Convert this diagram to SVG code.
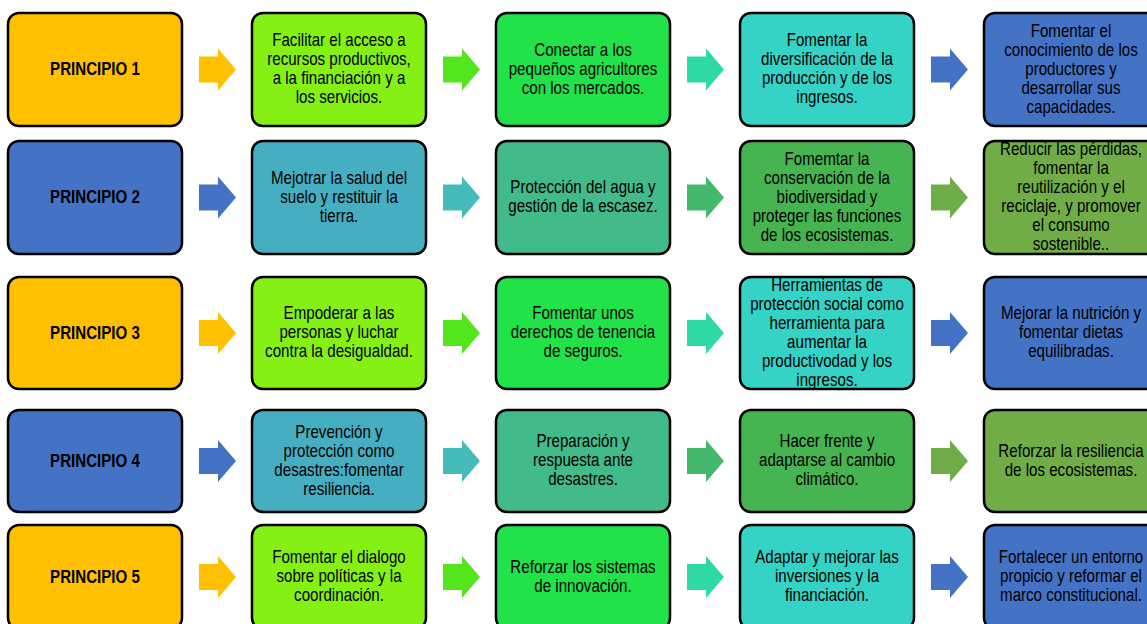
<svg xmlns="http://www.w3.org/2000/svg" xmlns:xlink="http://www.w3.org/1999/xlink" width="1147" height="624" viewBox="0 0 1147 624">
<style>
.box{stroke:#000;stroke-width:2.5}
.t{font-family:"Liberation Sans",Arial,sans-serif;font-size:18px;fill:#000;text-anchor:middle}
.b{font-weight:bold}
.orange{fill:#FFC000}.lime{fill:#85F013}.green{fill:#22E24A}.turq{fill:#34D3C5}.blue{fill:#4472C4}
.teal{fill:#46AEC1}.sea{fill:#43BA8A}.green2{fill:#46B450}.olive{fill:#70AD47}
.a-green{fill:#53E61C}.a-turq{fill:#2FD9A3}.a-teal{fill:#45BCB9}.a-sea{fill:#44B86B}.a-olive{fill:#6EAD48}
</style>
<defs>
<polygon id="arr" points="0,-13 19,-13 19,-21 37,0 19,21 19,13 0,13"/>
</defs>
<rect width="1147" height="624" fill="#fff"/>
<g id="connectors">
<use xlink:href="#arr" x="199" y="69.5" class="orange"/>
<use xlink:href="#arr" x="443" y="69.5" class="a-green"/>
<use xlink:href="#arr" x="687" y="69.5" class="a-turq"/>
<use xlink:href="#arr" x="931" y="69.5" class="blue"/>
<use xlink:href="#arr" x="199" y="197.5" class="blue"/>
<use xlink:href="#arr" x="443" y="197.5" class="a-teal"/>
<use xlink:href="#arr" x="687" y="197.5" class="a-sea"/>
<use xlink:href="#arr" x="931" y="197.5" class="a-olive"/>
<use xlink:href="#arr" x="199" y="333" class="orange"/>
<use xlink:href="#arr" x="443" y="333" class="a-green"/>
<use xlink:href="#arr" x="687" y="333" class="a-turq"/>
<use xlink:href="#arr" x="931" y="333" class="blue"/>
<use xlink:href="#arr" x="199" y="461" class="blue"/>
<use xlink:href="#arr" x="443" y="461" class="a-teal"/>
<use xlink:href="#arr" x="687" y="461" class="a-sea"/>
<use xlink:href="#arr" x="931" y="461" class="a-olive"/>
<use xlink:href="#arr" x="199" y="577" class="orange"/>
<use xlink:href="#arr" x="443" y="577" class="a-green"/>
<use xlink:href="#arr" x="687" y="577" class="a-turq"/>
<use xlink:href="#arr" x="931" y="577" class="blue"/>
</g>

<!-- Row 1 -->
<g id="p1">
<rect class="box orange" x="8" y="13" width="174" height="113" rx="11"/>
<text class="t b" transform="translate(95 0) scale(0.84 1)"><tspan x="0" y="75.5">PRINCIPIO 1</tspan></text>
</g>
<g id="r1c2">
<rect class="box lime" x="252" y="13" width="174" height="113" rx="11"/>
<text class="t" transform="translate(339 0) scale(0.84 1)"><tspan x="0" y="46.5">Facilitar el acceso a</tspan><tspan x="0" y="65.5">recursos productivos,</tspan><tspan x="0" y="84.5">a la financiación y a</tspan><tspan x="0" y="103.5">los servicios.</tspan></text>
</g>
<g id="r1c3">
<rect class="box green" x="496" y="13" width="174" height="113" rx="11"/>
<text class="t" transform="translate(583 0) scale(0.84 1)"><tspan x="0" y="56">Conectar a los</tspan><tspan x="0" y="75">pequeños agricultores</tspan><tspan x="0" y="94">con los mercados.</tspan></text>
</g>
<g id="r1c4">
<rect class="box turq" x="740" y="13" width="174" height="113" rx="11"/>
<text class="t" transform="translate(827 0) scale(0.84 1)"><tspan x="0" y="46.5">Fomentar la</tspan><tspan x="0" y="65.5">diversificación de la</tspan><tspan x="0" y="84.5">producción y de los</tspan><tspan x="0" y="103.5">ingresos.</tspan></text>
</g>
<g id="r1c5">
<rect class="box blue" x="984" y="13" width="174" height="113" rx="11"/>
<text class="t" transform="translate(1071 0) scale(0.84 1)"><tspan x="0" y="37">Fomentar el</tspan><tspan x="0" y="56">conocimiento de los</tspan><tspan x="0" y="75">productores y</tspan><tspan x="0" y="94">desarrollar sus</tspan><tspan x="0" y="113">capacidades.</tspan></text>
</g>

<!-- Row 2 -->
<g id="p2">
<rect class="box blue" x="8" y="141" width="174" height="113" rx="11"/>
<text class="t b" transform="translate(95 0) scale(0.84 1)"><tspan x="0" y="203.5">PRINCIPIO 2</tspan></text>
</g>
<g id="r2c2">
<rect class="box teal" x="252" y="141" width="174" height="113" rx="11"/>
<text class="t" transform="translate(339 0) scale(0.84 1)"><tspan x="0" y="184">Mejotrar la salud del</tspan><tspan x="0" y="203">suelo y restituir la</tspan><tspan x="0" y="222">tierra.</tspan></text>
</g>
<g id="r2c3">
<rect class="box sea" x="496" y="141" width="174" height="113" rx="11"/>
<text class="t" transform="translate(583 0) scale(0.84 1)"><tspan x="0" y="193.5">Protección del agua y</tspan><tspan x="0" y="212.5">gestión de la escasez.</tspan></text>
</g>
<g id="r2c4">
<rect class="box green2" x="740" y="141" width="174" height="113" rx="11"/>
<text class="t" transform="translate(827 0) scale(0.84 1)"><tspan x="0" y="165">Fomemtar la</tspan><tspan x="0" y="184">conservación de la</tspan><tspan x="0" y="203">biodiversidad y</tspan><tspan x="0" y="222">proteger las funciones</tspan><tspan x="0" y="241">de los ecosistemas.</tspan></text>
</g>
<g id="r2c5">
<rect class="box olive" x="984" y="141" width="174" height="113" rx="11"/>
<text class="t" transform="translate(1071 0) scale(0.84 1)"><tspan x="0" y="155.5">Reducir las pérdidas,</tspan><tspan x="0" y="174.5">fomentar la</tspan><tspan x="0" y="193.5">reutilización y el</tspan><tspan x="0" y="212.5">reciclaje, y promover</tspan><tspan x="0" y="231.5">el consumo</tspan><tspan x="0" y="250.5">sostenible..</tspan></text>
</g>

<!-- Row 3 -->
<g id="p3">
<rect class="box orange" x="8" y="277" width="174" height="112" rx="11"/>
<text class="t b" transform="translate(95 0) scale(0.84 1)"><tspan x="0" y="339">PRINCIPIO 3</tspan></text>
</g>
<g id="r3c2">
<rect class="box lime" x="252" y="277" width="174" height="112" rx="11"/>
<text class="t" transform="translate(339 0) scale(0.84 1)"><tspan x="0" y="319.5">Empoderar a las</tspan><tspan x="0" y="338.5">personas y luchar</tspan><tspan x="0" y="357.5">contra la desigualdad.</tspan></text>
</g>
<g id="r3c3">
<rect class="box green" x="496" y="277" width="174" height="112" rx="11"/>
<text class="t" transform="translate(583 0) scale(0.84 1)"><tspan x="0" y="319.5">Fomentar unos</tspan><tspan x="0" y="338.5">derechos de tenencia</tspan><tspan x="0" y="357.5">de seguros.</tspan></text>
</g>
<g id="r3c4">
<rect class="box turq" x="740" y="277" width="174" height="112" rx="11"/>
<text class="t" transform="translate(827 0) scale(0.84 1)"><tspan x="0" y="291">Herramientas de</tspan><tspan x="0" y="310">protección social como</tspan><tspan x="0" y="329">herramienta para</tspan><tspan x="0" y="348">aumentar la</tspan><tspan x="0" y="367">productivodad y los</tspan><tspan x="0" y="386">ingresos.</tspan></text>
</g>
<g id="r3c5">
<rect class="box blue" x="984" y="277" width="174" height="112" rx="11"/>
<text class="t" transform="translate(1071 0) scale(0.84 1)"><tspan x="0" y="319.5">Mejorar la nutrición y</tspan><tspan x="0" y="338.5">fomentar dietas</tspan><tspan x="0" y="357.5">equilibradas.</tspan></text>
</g>

<!-- Row 4 -->
<g id="p4">
<rect class="box blue" x="8" y="410" width="174" height="102" rx="11"/>
<text class="t b" transform="translate(95 0) scale(0.84 1)"><tspan x="0" y="467">PRINCIPIO 4</tspan></text>
</g>
<g id="r4c2">
<rect class="box teal" x="252" y="410" width="174" height="102" rx="11"/>
<text class="t" transform="translate(339 0) scale(0.84 1)"><tspan x="0" y="438">Prevención y</tspan><tspan x="0" y="457">protección como</tspan><tspan x="0" y="476">desastres:fomentar</tspan><tspan x="0" y="495">resiliencia.</tspan></text>
</g>
<g id="r4c3">
<rect class="box sea" x="496" y="410" width="174" height="102" rx="11"/>
<text class="t" transform="translate(583 0) scale(0.84 1)"><tspan x="0" y="447.5">Preparación y</tspan><tspan x="0" y="466.5">respuesta ante</tspan><tspan x="0" y="485.5">desastres.</tspan></text>
</g>
<g id="r4c4">
<rect class="box green2" x="740" y="410" width="174" height="102" rx="11"/>
<text class="t" transform="translate(827 0) scale(0.84 1)"><tspan x="0" y="447.5">Hacer frente y</tspan><tspan x="0" y="466.5">adaptarse al cambio</tspan><tspan x="0" y="485.5">climático.</tspan></text>
</g>
<g id="r4c5">
<rect class="box olive" x="984" y="410" width="174" height="102" rx="11"/>
<text class="t" transform="translate(1071 0) scale(0.84 1)"><tspan x="0" y="457">Reforzar la resiliencia</tspan><tspan x="0" y="476">de los ecosistemas.</tspan></text>
</g>

<!-- Row 5 -->
<g id="p5">
<rect class="box orange" x="8" y="525" width="174" height="104" rx="11"/>
<text class="t b" transform="translate(95 0) scale(0.84 1)"><tspan x="0" y="583">PRINCIPIO 5</tspan></text>
</g>
<g id="r5c2">
<rect class="box lime" x="252" y="525" width="174" height="104" rx="11"/>
<text class="t" transform="translate(339 0) scale(0.84 1)"><tspan x="0" y="563.5">Fomentar el dialogo</tspan><tspan x="0" y="582.5">sobre políticas y la</tspan><tspan x="0" y="601.5">coordinación.</tspan></text>
</g>
<g id="r5c3">
<rect class="box green" x="496" y="525" width="174" height="104" rx="11"/>
<text class="t" transform="translate(583 0) scale(0.84 1)"><tspan x="0" y="573">Reforzar los sistemas</tspan><tspan x="0" y="592">de innovación.</tspan></text>
</g>
<g id="r5c4">
<rect class="box turq" x="740" y="525" width="174" height="104" rx="11"/>
<text class="t" transform="translate(827 0) scale(0.84 1)"><tspan x="0" y="563.5">Adaptar y mejorar las</tspan><tspan x="0" y="582.5">inversiones y la</tspan><tspan x="0" y="601.5">financiación.</tspan></text>
</g>
<g id="r5c5">
<rect class="box blue" x="984" y="525" width="174" height="104" rx="11"/>
<text class="t" transform="translate(1071 0) scale(0.84 1)"><tspan x="0" y="563.5">Fortalecer un entorno</tspan><tspan x="0" y="582.5">propicio y reformar el</tspan><tspan x="0" y="601.5">marco constitucional.</tspan></text>
</g>
</svg>
